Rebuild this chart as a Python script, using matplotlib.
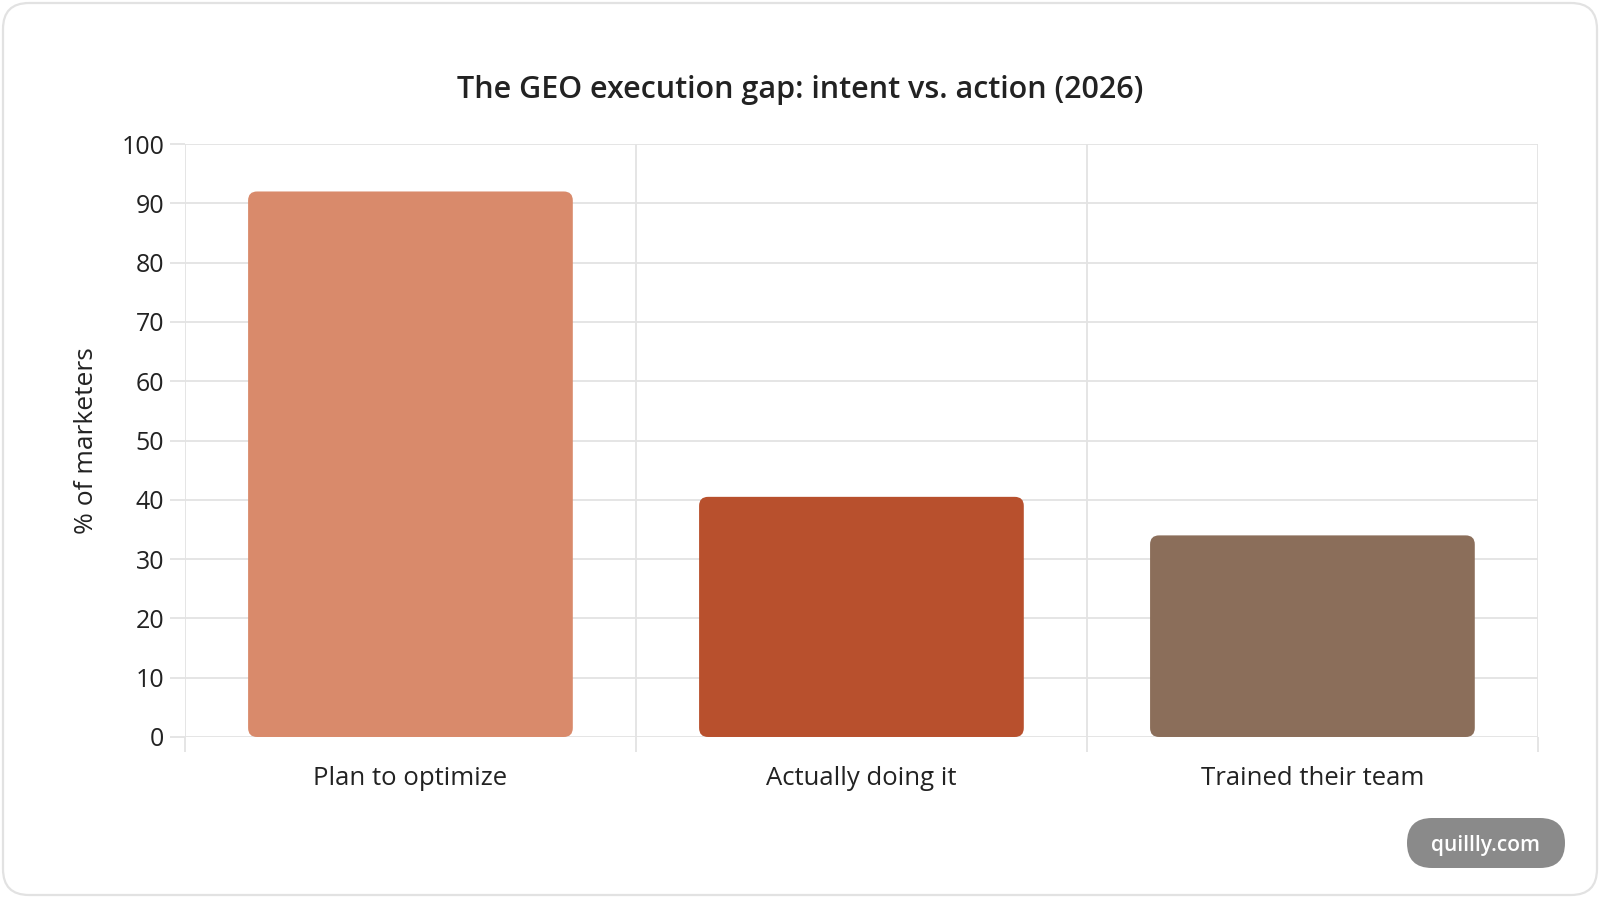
import numpy as np
import matplotlib.pyplot as plt
from matplotlib.patches import FancyBboxPatch

# data
categories = ['Plan to optimize', 'Actually doing it', 'Trained their team']
values = [92, 40.5, 34]
colors = ['#D98A6B', '#B8502D', '#8B6E5A']

plt.rcParams['font.family'] = ['Open Sans', 'DejaVu Sans']
grid_col = '#e3e3e3'
text_col = '#222222'

fig = plt.figure(figsize=(16, 8.98), dpi=100)
ax = fig.add_axes([0.1156, 0.1793, 0.8456, 0.6603])

x = np.arange(len(categories))
ax.set_xlim(-0.5, len(categories) - 0.5)
ax.set_ylim(0, 100)

# rounded bars: work out the aspect so the corners come out round
fig.canvas.draw()
p0 = ax.transData.transform((0, 0))
p1 = ax.transData.transform((1, 1))
aspect = (p1[0] - p0[0]) / (p1[1] - p0[1])
radius = 9 / (p1[0] - p0[0])
width = 0.72
for xi, v, c in zip(x, values, colors):
    patch = FancyBboxPatch((xi - width / 2, 0), width, v,
                           boxstyle='round,pad=0,rounding_size=%f' % radius,
                           mutation_aspect=aspect, facecolor=c,
                           edgecolor='none', zorder=3)
    ax.add_patch(patch)

# axes, ticks and grid
ax.set_yticks(range(0, 101, 10))
ax.set_xticks(np.arange(-0.5, len(categories), 1.0))
ax.set_xticklabels([])
ax.set_xticks(x, minor=True)
ax.set_xticklabels(categories, minor=True)
ax.tick_params(axis='y', length=11, width=1.3, color=grid_col, pad=4,
               labelsize=18, labelcolor=text_col)
ax.tick_params(axis='x', which='major', length=11, width=1.3, color=grid_col)
ax.tick_params(axis='x', which='minor', length=0, pad=21,
               labelsize=18.5, labelcolor=text_col)
ax.grid(True, which='major', color=grid_col, linewidth=1.3, zorder=0)
ax.set_axisbelow(True)
for s in ax.spines.values():
    s.set_visible(False)

fig.text(0.5, 0.900, 'The GEO execution gap: intent vs. action (2026)',
         ha='center', va='center', fontsize=22, fontweight='semibold',
         color=text_col)
fig.text(0.054, 0.509, '% of marketers', rotation=90, ha='center',
         va='center', fontsize=19, color=text_col)

# card border
card = FancyBboxPatch((3, 3), 1594, 892,
                      boxstyle='round,pad=0,rounding_size=26',
                      transform=None, facecolor='none',
                      edgecolor='#e2e2e2', linewidth=1.6)
fig.patches.append(card)

# watermark pill
pill = FancyBboxPatch((1407, 30), 158, 50,
                      boxstyle='round,pad=0,rounding_size=25',
                      transform=None, facecolor='#8a8a8a',
                      edgecolor='none')
fig.patches.append(pill)
fig.text(0.9285, 0.0585, 'quillly.com', ha='center', va='center',
         fontsize=15, fontweight='semibold', color='white')

fig.savefig('out.png', dpi=100)
